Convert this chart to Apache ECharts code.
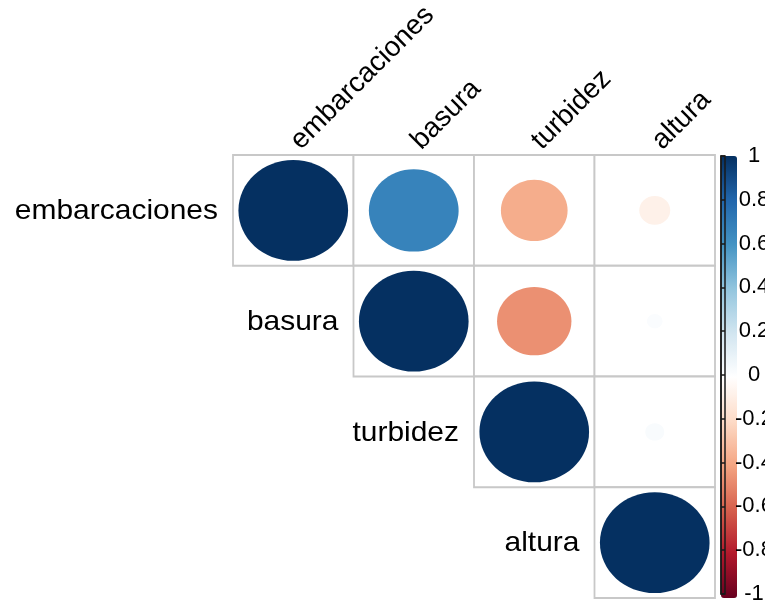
<!DOCTYPE html>
<html>
<head>
<meta charset="utf-8">
<script src="https://cdn.jsdelivr.net/npm/echarts@6/dist/echarts.min.js"></script>
<style>
  html, body { margin: 0; padding: 0; background: #fff; }
  #chart { width: 765px; height: 605px; }
</style>
</head>
<body>
<div id="chart"></div>
<script>
// Variables of the correlation matrix (rows and columns share the order)
const variables = ['embarcaciones', 'basura', 'turbidez', 'altura'];

// Pearson correlations, upper triangle only (null = lower triangle, not drawn)
const corrEmbarcaciones = [1.00, 0.67, -0.37, -0.08];
const corrBasura        = [null, 1.00, -0.46, 0.02];
const corrTurbidez      = [null, null, 1.00, 0.03];
const corrAltura        = [null, null, null, 1.00];

// Colour legend ticks
const colorbarTicks  = [-1, -0.8, -0.6, -0.4, -0.2, 0, 0.2, 0.4, 0.6, 0.8, 1];
const colorbarLabels = ['-1', '-0.8', '-0.6', '-0.4', '-0.2', '0', '0.2', '0.4', '0.6', '0.8', '1'];

// Diverging red-blue palette from -1 to 1
const palette = ['#67001F', '#B2182B', '#D6604D', '#F4A582', '#FDDBC7', '#FFFFFF',
                 '#D1E5F0', '#92C5DE', '#4393C3', '#2166AC', '#053061'];

const matrix = [corrEmbarcaciones, corrBasura, corrTurbidez, corrAltura];
const cells = [];
matrix.forEach((row, i) => {
  row.forEach((r, j) => {
    if (r !== null) cells.push([j, i, r]);
  });
});

const FONT = '"Liberation Sans", Arial, Helvetica, sans-serif';
const LABEL_SIZE = 28;

const chart = echarts.init(document.getElementById('chart'), null, { renderer: 'canvas' });

chart.setOption({
  animation: false,
  backgroundColor: '#ffffff',
  grid: [
    { left: 233, top: 155, width: 482, height: 443 },
    { left: 721, top: 156, width: 16, height: 442, show: true, z: 10,
      backgroundColor: 'transparent', borderColor: '#1a1a1a', borderWidth: 1.5 }
  ],
  xAxis: [
    {
      gridIndex: 0, type: 'category', data: variables, position: 'top',
      axisLine: { show: false }, axisTick: { show: false }, splitLine: { show: false },
      axisLabel: { show: false }
    },
    { gridIndex: 1, type: 'value', show: false, min: 0, max: 1 }
  ],
  yAxis: [
    { gridIndex: 0, type: 'category', data: variables, inverse: true, show: false },
    {
      gridIndex: 1, type: 'value', position: 'right', min: -1, max: 1, interval: 0.2, z: 11,
      axisLine: { show: true, lineStyle: { color: '#1a1a1a', width: 1.5 } },
      axisTick: { show: true, length: 4, lineStyle: { color: '#1a1a1a', width: 1.5 } },
      splitLine: { show: false },
      axisLabel: {
        margin: 29, align: 'center', fontSize: 22, fontFamily: FONT, color: '#000',
        formatter: function (v) {
          let best = 0;
          colorbarTicks.forEach((t, k) => {
            if (Math.abs(t - v) < Math.abs(colorbarTicks[best] - v)) best = k;
          });
          return colorbarLabels[best];
        }
      }
    }
  ],
  visualMap: {
    type: 'continuous', min: -1, max: 1, dimension: 2, seriesIndex: 1,
    inRange: { color: palette },
    orient: 'vertical', left: 721, top: 156, itemWidth: 16, itemHeight: 442,
    calculable: false, padding: 0, hoverLink: false, text: null
  },
  series: [
    {
      // cell frames, row labels beside the diagonal, column labels above the first row
      type: 'custom', xAxisIndex: 0, yAxisIndex: 0, data: cells, z: 1,
      renderItem: function (params, api) {
        const col = api.value(0), row = api.value(1);
        const c = api.coord([col, row]);
        const s = api.size([1, 1]);
        const left = c[0] - s[0] / 2, top = c[1] - s[1] / 2;
        const children = [{
          type: 'rect',
          shape: { x: left, y: top, width: s[0], height: s[1] },
          style: { fill: '#ffffff', stroke: '#c8c8c8', lineWidth: 1.8 }
        }];
        if (col === row) {
          children.push({
            type: 'text',
            x: left - 15, y: c[1] + 1, scaleX: 1.07,
            style: {
              text: variables[row], x: 0, y: 0,
              align: 'right', verticalAlign: 'middle',
              fontSize: LABEL_SIZE, fontFamily: FONT, fill: '#000'
            }
          });
        }
        if (row === 0) {
          children.push({
            type: 'text',
            x: c[0] + 12, y: top, rotation: Math.PI / 4,
            style: {
              text: variables[col], x: 0, y: 0,
              align: 'left', verticalAlign: 'bottom',
              fontSize: LABEL_SIZE, fontFamily: FONT, fill: '#000'
            }
          });
        }
        return { type: 'group', children: children };
      }
    },
    {
      // circles: area proportional to |r|, colour from r
      type: 'custom', xAxisIndex: 0, yAxisIndex: 0, data: cells, z: 2,
      renderItem: function (params, api) {
        const c = api.coord([api.value(0), api.value(1)]);
        const s = api.size([1, 1]);
        const k = 0.91 * Math.sqrt(Math.abs(api.value(2)));
        return {
          type: 'ellipse',
          shape: { cx: c[0], cy: c[1], rx: s[0] / 2 * k, ry: s[1] / 2 * k },
          style: { fill: api.visual('color') }
        };
      }
    }
  ]
});
</script>
</body>
</html>
